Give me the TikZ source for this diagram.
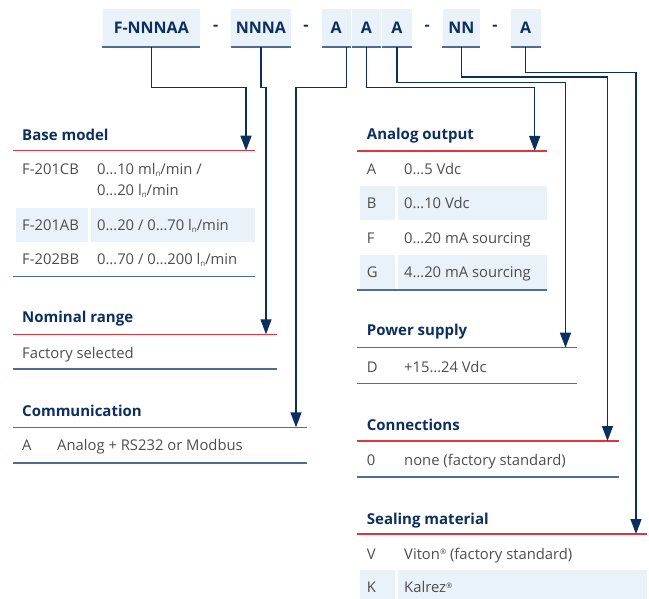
\documentclass[tikz,border=0pt]{standalone}
\usepackage{fontspec}
\setmainfont{Open Sans}
\usetikzlibrary{arrows.meta}
\definecolor{navy}{HTML}{0C2F5F}
\definecolor{cellblue}{HTML}{E9F1F9}
\definecolor{redrule}{HTML}{E2343F}
\definecolor{endrule}{HTML}{4F6D94}
\definecolor{bodytext}{HTML}{4D4D4D}
\newcommand{\nsub}{\raisebox{-1.8pt}{\fontsize{8}{8}\selectfont n}}
\newcommand{\regmark}{\raisebox{4.5pt}{\fontsize{7.5}{7.5}\selectfont ®}}

\begin{document}
\begin{tikzpicture}[x=1pt,y=-1pt,
    code/.style={fill=cellblue,inner sep=0pt,minimum height=37.7pt,font=\fontsize{16}{19}\selectfont\bfseries,text=navy},
    sepmark/.style={font=\fontsize{16}{19}\selectfont\bfseries,text=navy},
    head/.style={anchor=base west,inner sep=0pt,font=\fontsize{15}{18}\selectfont\bfseries,text=navy},
    cell/.style={anchor=base west,inner sep=0pt,font=\fontsize{14.8}{20.7}\selectfont,text=bodytext},
    link/.style={navy,line width=1.4pt},
    arr/.style={link,-{Triangle[width=11pt,length=15pt]}},
    headrule/.style={redrule,line width=1.2pt},
    tailrule/.style={endrule,line width=1.6pt}]
    \useasboundingbox (0,0) rectangle (649,599);

    \node[code,minimum width=97.3pt] (f) at (151.3,28) {F-NNNAA};
    \node[code,minimum width=60pt] (nnna) at (261,28) {NNNA};
    \node[code,minimum width=29pt] (a1) at (336.2,28) {A};
    \node[code,minimum width=29pt] (a2) at (366.5,28) {A};
    \node[code,minimum width=29.7pt] (a3) at (396.8,28) {A};
    \node[code,minimum width=37.3pt] (nn) at (461.3,28) {NN};
    \node[code,minimum width=30pt] (a5) at (525.7,28) {A};
    \node[sepmark] (d1) at (215.7,28) {-};
    \node[sepmark] (d2) at (306,28) {-};
    \node[sepmark] (d3) at (427.3,28) {-};
    \node[sepmark] (d4) at (495,28) {-};
    \foreach \b in {f,nnna,a1,a2,a3,nn,a5}
        \draw[endrule,line width=2pt] (\b.south west) -- (\b.south east);

    % shaded rows
    \fill[cellblue] (15.7,207.7) rectangle (88.3,241.7);
    \fill[cellblue] (91,207.7) rectangle (255,241.7);
    \fill[cellblue] (360,186) rectangle (395,220);
    \fill[cellblue] (398,186) rectangle (546.7,220);
    \fill[cellblue] (360,255) rectangle (395,289);
    \fill[cellblue] (398,255) rectangle (546.7,289);
    \fill[cellblue] (360,570) rectangle (395,599);
    \fill[cellblue] (398,570) rectangle (646.5,599);

    % left column
    \node[head] (base) at (22,140.5) {Base model};
    \coordinate (tbase) at (246,150.7);
    \draw[headrule] (13,150.7) -- (255,150.7);
    \node[cell] (b1) at (22,175) {F-201CB};
    \node[cell,align=left] (b1v) at (97,195.7) {0…10 ml\nsub/min /\\0…20 l\nsub/min};
    \node[cell] (b2) at (22,230.7) {F-201AB};
    \node[cell] (b2v) at (97,230.7) {0…20 / 0…70 l\nsub/min};
    \node[cell] (b3) at (22,265) {F-202BB};
    \node[cell] (b3v) at (97,265) {0…70 / 0…200 l\nsub/min};
    \draw[tailrule] (13,276.7) -- (255,276.7);

    \node[head] (nom) at (22,322.3) {Nominal range};
    \coordinate (tnom) at (266,334.3);
    \draw[headrule] (13,334.3) -- (277,334.3);
    \node[cell] (n1) at (22,359) {Factory selected};
    \draw[tailrule] (13,369) -- (277,369);

    \node[head] (comm) at (22,416) {Communication};
    \coordinate (tcomm) at (296,427.3);
    \draw[headrule] (13,427.3) -- (307,427.3);
    \node[cell] (c1) at (22,450.7) {A};
    \node[cell] (c1v) at (57,450.7) {Analog + RS232 or Modbus};
    \draw[tailrule] (13,462.7) -- (307,462.7);

    % right column
    \node[head] (ana) at (366.7,140) {Analog output};
    \coordinate (tana) at (534.7,151);
    \draw[headrule] (357.3,151) -- (546.7,151);
    \node[cell] (o1) at (366.7,175) {A};
    \node[cell] (o1v) at (404,175) {0…5 Vdc};
    \node[cell] (o2) at (366.7,209) {B};
    \node[cell] (o2v) at (404,209) {0…10 Vdc};
    \node[cell] (o3) at (366.7,244) {F};
    \node[cell] (o3v) at (404,244) {0…20 mA sourcing};
    \node[cell] (o4) at (366.7,277.7) {G};
    \node[cell] (o4v) at (404,277.7) {4…20 mA sourcing};
    \draw[tailrule] (357.3,290) -- (546.7,290);

    \node[head] (pow) at (366.7,336) {Power supply};
    \coordinate (tpow) at (565.5,347.7);
    \draw[headrule] (357.3,347.7) -- (576.7,347.7);
    \node[cell] (p1) at (366.7,372.3) {D};
    \node[cell] (p1v) at (404,372.3) {+15…24 Vdc};
    \draw[tailrule] (357.3,383.3) -- (576.7,383.3);

    \node[head] (conn) at (366.7,430) {Connections};
    \coordinate (tconn) at (607.5,441);
    \draw[headrule] (357.3,441) -- (618.7,441);
    \node[cell] (k1) at (366.7,465.7) {0};
    \node[cell] (k1v) at (404,465.7) {none (factory standard)};
    \draw[tailrule] (357.3,476.7) -- (618.7,476.7);

    \node[head] (seal) at (366.7,524.3) {Sealing material};
    \coordinate (tseal) at (636,534);
    \draw[headrule] (357.3,534) -- (647,534);
    \node[cell] (s1) at (366.7,559) {V};
    \node[cell] (s1v) at (404,559) {Viton\regmark{} (factory standard)};
    \node[cell] (s2) at (366.7,592.7) {K};
    \node[cell] (s2v) at (404,592.7) {Kalrez\regmark};

    % connectors
    \draw[arr] (f.south) -- ++(0,40.3) -| (tbase);
    \draw[arr] (nnna.south) -- ++(0,40.3) -| (tnom);
    \draw[arr] ([xshift=10pt]a1.south) -- ++(0,40.3) -| (tcomm);
    \draw[arr] (a2.south) -- ++(0,40.3) -| (tana);
    \draw[arr] (a3.south) -- ++(0,35.3) -| (tpow);
    \draw[arr] (nn.south) -- ++(0,30) -| (tconn);
    \draw[arr] (a5.south) -- ++(0,25.3) -| (tseal);
\end{tikzpicture}
\end{document}
